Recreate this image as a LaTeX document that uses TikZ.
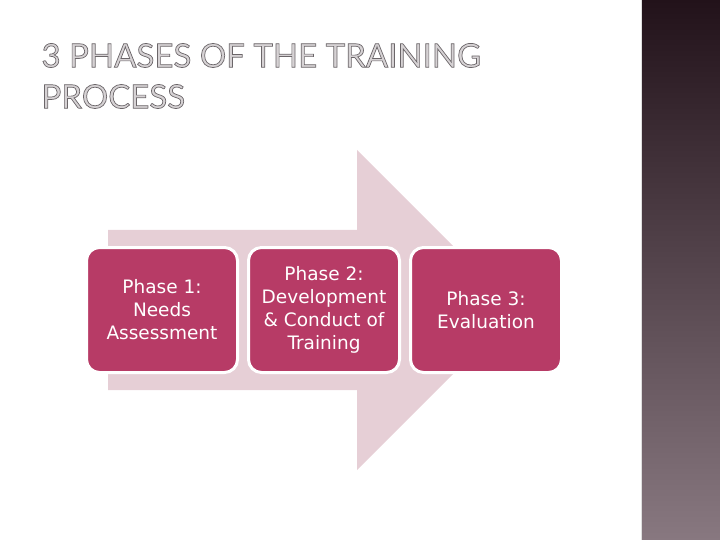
\documentclass[tikz,border=0pt]{standalone}
\usepackage{fontspec}
\setmainfont{DejaVu Sans}
\newfontfamily\titlefont{Lato}
\usepackage{tikz}
\definecolor{phasered}{HTML}{B73B66}
\definecolor{arrowpink}{HTML}{E6CFD6}
\definecolor{bartop}{HTML}{22121A}
\definecolor{barbottom}{HTML}{887880}
\definecolor{titlefill}{HTML}{D6D2D4}
% outlined letters: fill and stroke, grey stroke
\newcommand{\outlined}[1]{{\color{titlefill}\special{pdf:literal direct 2 Tr 0.7 w 0.42 0.40 0.41 RG}#1\special{pdf:literal direct 0 Tr}}}

\begin{document}
\begin{tikzpicture}[x=1pt, y=-1pt,
    phasebox/.style={draw=white, line width=3pt, fill=phasered, rounded corners=13pt,
        minimum width=151pt, minimum height=125pt, text=white, align=center,
        font=\fontsize{18.5}{23}\selectfont}]
        \useasboundingbox (0,0) rectangle (720,540);
        % side bar
        \shade[top color=bartop, bottom color=barbottom] (642,0) rectangle (720,540);
        \draw[gray!25, line width=1pt] (641,0) -- (641,540);

        % big arrow
        \fill[arrowpink] (108,230) -- (357,230) -- (357,150) -- (517,310)
            -- (357,470) -- (357,390) -- (108,390) -- cycle;

        % phases
        \node[phasebox] (phase1) at (162,310) {Phase 1:\\Needs\\Assessment};
        \node[phasebox] (phase2) at (324,310) {Phase 2:\\Development\\\& Conduct of\\Training};
        \node[phasebox] (phase3) at (486,310) {Phase 3:\\Evaluation};

        % title
        \node[anchor=west, align=left, font=\titlefont\fontsize{33}{41}\selectfont] (title) at (38,76)
            {\outlined{3 PHASES OF THE TRAINING}\\ \outlined{PROCESS}};
\end{tikzpicture}
\end{document}
